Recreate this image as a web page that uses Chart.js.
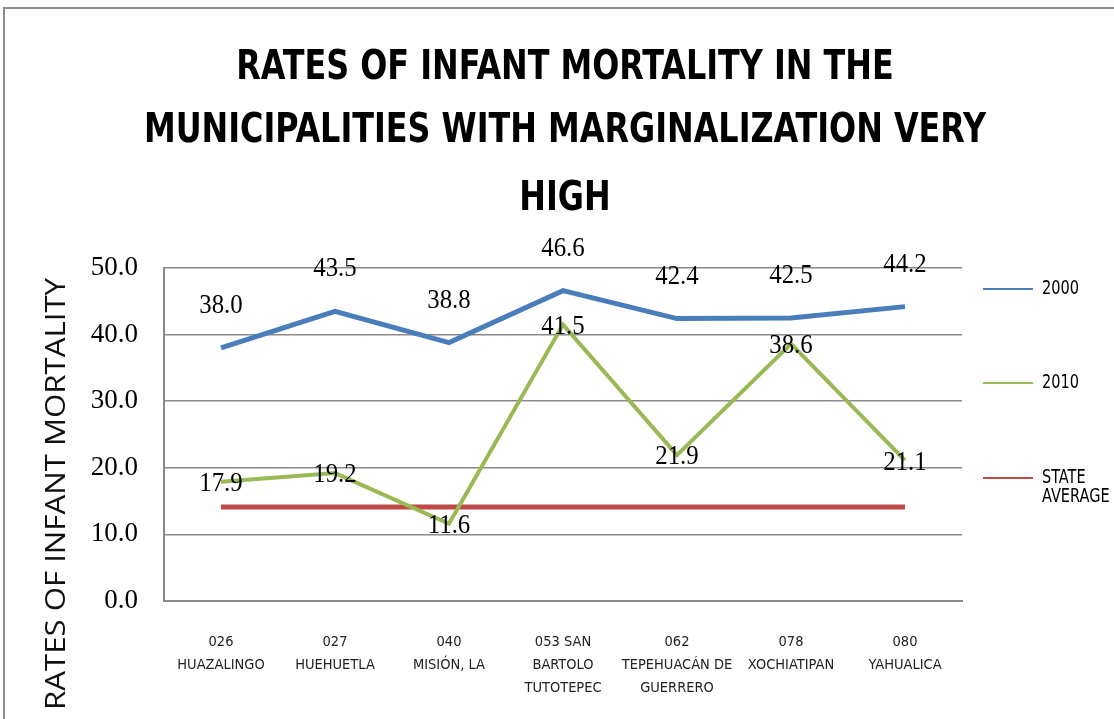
<!DOCTYPE html>
<html><head><meta charset="utf-8">
<script src="https://cdn.jsdelivr.net/npm/chart.js@4.4.1/dist/chart.umd.min.js"></script>
<style>
html,body{margin:0;padding:0;background:#fff;overflow:hidden}
#wrap{position:absolute;left:0;top:0;width:1114px;height:719px}
#frame{position:absolute;left:3px;top:7px;width:1200px;height:800px;border:2px solid #8c8c8c;box-sizing:border-box}
canvas{position:absolute;left:0;top:0}
</style></head><body>
<div id="wrap"><div id="frame"></div><canvas id="c" width="1114" height="719"></canvas></div>
<script>
// ---- data ----
const categories = [
  ["026","HUAZALINGO"],
  ["027","HUEHUETLA"],
  ["040","MISIÓN, LA"],
  ["053 SAN","BARTOLO","TUTOTEPEC"],
  ["062","TEPEHUACÁN DE","GUERRERO"],
  ["078","XOCHIATIPAN"],
  ["080","YAHUALICA"]
];
const series2000 = [38.0, 43.5, 38.8, 46.6, 42.4, 42.5, 44.2];
const series2010 = [17.9, 19.2, 11.6, 41.5, 21.9, 38.6, 21.1];
const stateAverage = [14.1, 14.1, 14.1, 14.1, 14.1, 14.1, 14.1];
const seriesNames = ["2000", "2010", "STATE AVERAGE"];
const legendLines = [["2000"], ["2010"], ["STATE", "AVERAGE"]];
const titleLines = ["RATES OF INFANT MORTALITY IN THE", "MUNICIPALITIES WITH MARGINALIZATION VERY", "HIGH"];
const yAxisTitle = "RATES OF INFANT MORTALITY";
const yMin = 0, yMax = 50, yStep = 10;

// ---- styles ----
const BLUE = "#4a7ebb", GREEN = "#98b954", RED = "#be4b48";
const NARROW = '"Liberation Sans Narrow", "DejaVu Sans Condensed", "Open Sans", sans-serif';
const SERIF = '"Liberation Serif", "DejaVu Serif", serif';

function scaledText(ctx, text, x, y, sx) {
  ctx.save();
  ctx.translate(x, y);
  ctx.scale(sx, 1);
  ctx.fillText(text, 0, 0);
  ctx.restore();
}

const decorPlugin = {
  id: "decor",
  afterDatasetsDraw(chart) {
    const ctx = chart.ctx;
    ctx.save();
    ctx.fillStyle = "#000";
    ctx.font = "27px " + SERIF;
    ctx.textAlign = "center";
    ctx.textBaseline = "middle";
    const m0 = chart.getDatasetMeta(0), m1 = chart.getDatasetMeta(1);
    m0.data.forEach((p, i) => scaledText(ctx, series2000[i].toFixed(1), p.x, p.y - 42, 0.92));
    m1.data.forEach((p, i) => scaledText(ctx, series2010[i].toFixed(1), p.x, p.y + 2, 0.92));
    ctx.restore();
  },
  afterDraw(chart) {
    const ctx = chart.ctx;
    ctx.save();
    // title
    ctx.fillStyle = "#000";
    ctx.font = "bold 41px " + NARROW;
    ctx.textAlign = "center";
    ctx.textBaseline = "middle";
    const tsx = 842 / ctx.measureText(titleLines[1]).width;
    const ty = [68, 131, 199];
    titleLines.forEach((t, i) => scaledText(ctx, t, 565, ty[i], tsx));
    // y-axis title
    ctx.save();
    ctx.translate(57, 494);
    ctx.rotate(-Math.PI / 2);
    ctx.font = "28px \"Open Sans\", sans-serif";
    ctx.fillStyle = "#111";
    const ysx = 432 / ctx.measureText(yAxisTitle).width;
    scaledText(ctx, yAxisTitle, 0, 0, ysx);
    ctx.restore();
    // legend
    const ly = [289, 383, 478];
    ctx.font = "20px " + NARROW;
    ctx.textAlign = "left";
    const lsx = 37 / ctx.measureText("2000").width;
    chart.data.datasets.forEach((ds, i) => {
      ctx.strokeStyle = ds.borderColor;
      ctx.lineWidth = 2;
      ctx.beginPath();
      ctx.moveTo(983, ly[i]);
      ctx.lineTo(1033, ly[i]);
      ctx.stroke();
      ctx.fillStyle = "#000";
      legendLines[i].forEach((t, j) => scaledText(ctx, t, 1042, ly[i] + j * 19, lsx));
    });
    ctx.restore();
  }
};

new Chart(document.getElementById("c"), {
  type: "line",
  data: {
    labels: categories,
    datasets: [
      { label: seriesNames[0], data: series2000, borderColor: BLUE, borderWidth: 5, pointRadius: 0, tension: 0, fill: false },
      { label: seriesNames[1], data: series2010, borderColor: GREEN, borderWidth: 4, pointRadius: 0, tension: 0, fill: false },
      { label: seriesNames[2], data: stateAverage, borderColor: RED, borderWidth: 5, pointRadius: 0, tension: 0, fill: false }
    ]
  },
  options: {
    responsive: false,
    animation: false,
    layout: { padding: { left: 0, top: 268, right: 152, bottom: 0 } },
    plugins: { legend: { display: false }, title: { display: false }, tooltip: { enabled: false } },
    scales: {
      x: {
        offset: true,
        grid: { display: false, drawTicks: false },
        border: { display: true, color: "#8a8a8a", width: 2 },
        ticks: { autoSkip: false, maxRotation: 0, minRotation: 0, padding: 29, color: "#222",
                 font: { family: NARROW, size: 14.5, lineHeight: 1.62 } },
        afterFit(s) { s.height = 719 - 601; }
      },
      y: {
        min: yMin, max: yMax,
        grid: { color: "#8a8a8a", lineWidth: 1.5, drawTicks: false },
        border: { display: true, color: "#8a8a8a", width: 2 },
        ticks: { stepSize: yStep, padding: 26, color: "#000",
                 font: { family: SERIF, size: 27 },
                 callback: v => Number(v).toFixed(1) },
        afterFit(s) { s.width = 164; }
      }
    }
  },
  plugins: [decorPlugin]
});
</script>
</body></html>
